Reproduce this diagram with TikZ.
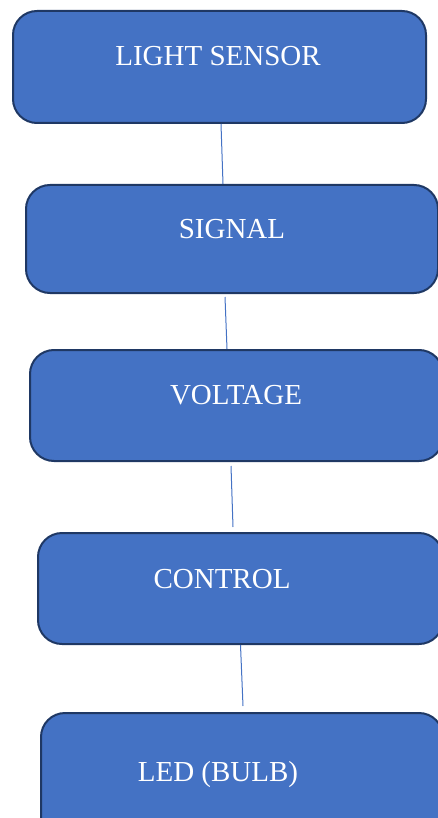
\documentclass[tikz,border=0pt]{standalone}
\usepackage{fontspec}
\setmainfont{Liberation Serif}
\definecolor{boxblue}{HTML}{4472C4}
\definecolor{boxedge}{HTML}{1F3864}
\tikzset{
  stage/.style={draw=boxedge,line width=2pt,fill=boxblue,rounded corners=24pt,
    inner sep=0pt,anchor=north west},
  stagetext/.style={text=white,font=\fontsize{29}{34}\selectfont,inner sep=0pt,anchor=base},
  link/.style={draw=boxblue,line width=1pt}
}
\begin{document}
\begin{tikzpicture}[x=1pt,y=-1pt]
     		\clip (0,0) rectangle (438,818);
     		% boxes
     		\node[stage,minimum width=413pt,minimum height=112pt] (sensor) at (12,10) {};
     		\node[stage,minimum width=412pt,minimum height=108pt] (signal) at (25,184) {};
     		\node[stage,minimum width=413pt,minimum height=111pt] (voltage) at (29,349) {};
     		\node[stage,minimum width=405pt,minimum height=111pt] (control) at (37,532) {};
     		\node[stage,minimum width=402pt,minimum height=140pt] (led) at (40,712) {};
     		% texts
     		\node[stagetext] (sensortxt) at (218,66) {LIGHT SENSOR};
     		\node[stagetext] (signaltxt) at (232,238) {SIGNAL};
     		\node[stagetext] (voltagetxt) at (236,404) {VOLTAGE};
     		\node[stagetext] (controltxt) at (222,588) {CONTROL};
     		\node[stagetext] (ledtxt) at (218,781) {LED (BULB)};
     		% connectors
     		\draw[link] ([xshift=1.5pt]sensor.south)--([xshift=-9pt]signal.north);
     		\draw[link] ([xshift=-7pt,yshift=-3pt]signal.south)--([xshift=-9.5pt]voltage.north);
     		\draw[link] ([xshift=-5.5pt,yshift=-4pt]voltage.south)--([xshift=-7.5pt,yshift=5pt]control.north);
     		\draw[link] (control.south)--([xshift=1pt,yshift=6pt]led.north);
		\end{tikzpicture}
\end{document}
